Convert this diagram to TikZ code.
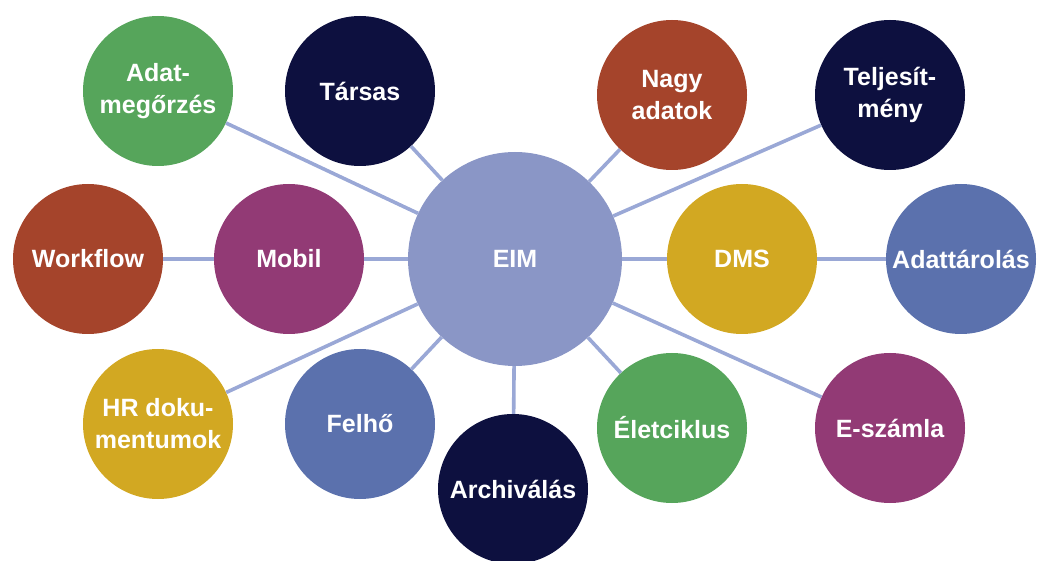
\documentclass[tikz,border=0pt]{standalone}
\usepackage{fontspec}
\setmainfont{Liberation Sans}
\definecolor{cgreen}{HTML}{56A55B}
\definecolor{cnavy}{HTML}{0D103F}
\definecolor{crust}{HTML}{A5442B}
\definecolor{cpurple}{HTML}{923A75}
\definecolor{cgold}{HTML}{D2A822}
\definecolor{cblue}{HTML}{5B71AD}
\definecolor{ceim}{HTML}{8A96C6}
\definecolor{cline}{HTML}{9AA8D6}
\begin{document}
\begin{tikzpicture}[x=1pt,y=-1pt,
  bubble/.style={circle,inner sep=0pt,minimum size=150pt,text=white,
    font=\fontsize{25}{32}\selectfont\bfseries,align=center},
  hub/.style={bubble,minimum size=214pt,fill=ceim},
  link/.style={draw=cline,line width=3.6pt}]
\useasboundingbox (0,0) rectangle (1053,561);
\node[hub] (eim) at (515,259) {EIM};
\node[bubble,fill=cgreen] (adat) at (158,91) {Adat-\\megőrzés};
\node[bubble,fill=cnavy] (tarsas) at (360,91) {Társas};
\node[bubble,fill=crust] (nagy) at (672,95) {Nagy\\adatok};
\node[bubble,fill=cnavy] (telj) at (890,95) {Teljesít-\\mény};
\node[bubble,fill=crust] (work) at (88,259) {Workflow};
\node[bubble,fill=cpurple] (mobil) at (289,259) {Mobil};
\node[bubble,fill=cgold] (dms) at (742,259) {DMS};
\node[bubble,fill=cblue] (tarol) at (961,259) {Adattárolás};
\node[bubble,fill=cgold] (hr) at (158,424) {HR doku-\\mentumok};
\node[bubble,fill=cblue] (felho) at (360,424) {Felhő};
\node[bubble,fill=cnavy] (arch) at (513,489) {Archiválás};
\node[bubble,fill=cgreen] (elet) at (672,428) {Életciklus};
\node[bubble,fill=cpurple] (eszamla) at (890,428) {E-számla};
\path[link] (eim) -- (adat);
\path[link] (eim) -- (tarsas);
\path[link] (eim) -- (nagy);
\path[link] (eim) -- (telj);
\path[link] (eim) -- (mobil);
\path[link] (mobil) -- (work);
\path[link] (eim) -- (dms);
\path[link] (dms) -- (tarol);
\path[link] (eim) -- (hr);
\path[link] (eim) -- (felho);
\path[link] (eim) -- (arch);
\path[link] (eim) -- (elet);
\path[link] (eim) -- (eszamla);
\end{tikzpicture}
\end{document}
